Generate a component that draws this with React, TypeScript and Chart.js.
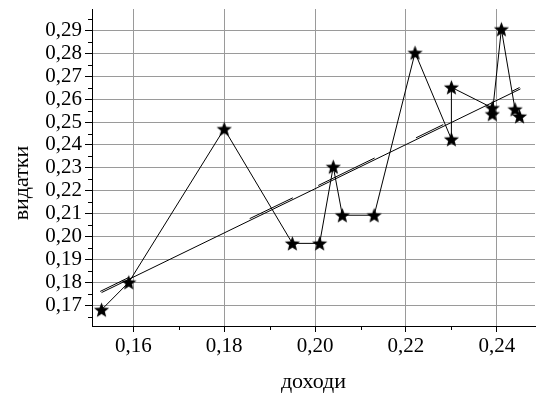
import React, { useEffect, useRef } from "react";
import { Chart, registerables } from "chart.js";
Chart.register(...registerables);

// observed points (income, expenditure)
const incomeX = [0.153, 0.159, 0.180, 0.195, 0.201, 0.204, 0.206, 0.213, 0.222, 0.230, 0.230, 0.239, 0.239, 0.241, 0.244, 0.245];
const spendY = [0.168, 0.180, 0.247, 0.197, 0.197, 0.2305, 0.2093, 0.2093, 0.2803, 0.2425, 0.2652, 0.2562, 0.2535, 0.2906, 0.2556, 0.2525];

// linear trend (solid)
const trendX = [0.153, 0.2452];
const trendY = [0.1755, 0.2645];

// second trend drawn as broken (double-looking) segments
const dashStartX = [0.1527, 0.1856, 0.2007, 0.2222, 0.2433];
const dashEndX = [0.1591, 0.1951, 0.2131, 0.2282, 0.2450];
const dashStartY = [0.1760, 0.2078, 0.2223, 0.2431, 0.2634];
const dashEndY = [0.1822, 0.2169, 0.2343, 0.2489, 0.2651];

// axes
const xMin = 0.1509;
const xMax = 0.2484;
const yMin = 0.1609;
const yMax = 0.2994;
const xMajorTicks = [0.16, 0.18, 0.20, 0.22, 0.24];
const yMajorTicks = [0.17, 0.18, 0.19, 0.20, 0.21, 0.22, 0.23, 0.24, 0.25, 0.26, 0.27, 0.28, 0.29];
const xMinorTicks = [0.17, 0.19, 0.21, 0.23];
const yMinorTicks = [0.165, 0.175, 0.185, 0.195, 0.205, 0.215, 0.225, 0.235, 0.245, 0.255, 0.265, 0.275, 0.285, 0.295];
const xTitle = "доходи";
const yTitle = "видатки";

const FONT = "'Liberation Serif', 'Times New Roman', serif";

function makeStar(r: number): HTMLCanvasElement {
  const s = Math.ceil(r * 2) + 3;
  const c = document.createElement("canvas");
  c.width = s;
  c.height = s;
  const ctx = c.getContext("2d")!;
  const cx = s / 2;
  const cy = s / 2 + 0.7;
  ctx.fillStyle = "#000";
  ctx.beginPath();
  for (let i = 0; i < 10; i++) {
    const a = -Math.PI / 2 + (i * Math.PI) / 5;
    const rad = i % 2 === 0 ? r : r * 0.43;
    const px = cx + rad * Math.cos(a);
    const py = cy + rad * Math.sin(a);
    if (i === 0) ctx.moveTo(px, py);
    else ctx.lineTo(px, py);
  }
  ctx.closePath();
  ctx.fill();
  return c;
}

const fmt = (v: number) => v.toFixed(2).replace(".", ",");

export default function App() {
  const ref = useRef<HTMLCanvasElement>(null);
  useEffect(() => {
    if (!ref.current) return;
    const star = makeStar(8);
    const points = incomeX.map((x, i) => ({ x, y: spendY[i] }));
    const trend = trendX.map((x, i) => ({ x, y: trendY[i] }));
    const dashed: { x: number; y: number | null }[] = [];
    dashStartX.forEach((sx, i) => {
      dashed.push({ x: sx, y: dashStartY[i] });
      dashed.push({ x: dashEndX[i], y: dashEndY[i] });
      dashed.push({ x: dashEndX[i], y: null });
    });

    const extras = {
      id: "extras",
      afterDraw(chart: any) {
        const ctx = chart.ctx;
        const xs = chart.scales.x;
        const ys = chart.scales.y;
        ctx.save();
        ctx.strokeStyle = "#000";
        ctx.lineWidth = 1;
        ctx.beginPath();
        xMinorTicks.forEach((v) => {
          const px = Math.round(xs.getPixelForValue(v)) + 0.5;
          ctx.moveTo(px, ys.bottom);
          ctx.lineTo(px, ys.bottom + 4);
        });
        yMinorTicks.forEach((v) => {
          const py = Math.round(ys.getPixelForValue(v)) + 0.5;
          ctx.moveTo(xs.left, py);
          ctx.lineTo(xs.left - 4, py);
        });
        ctx.stroke();
        ctx.fillStyle = "#000";
        ctx.font = `22px ${FONT}`;
        ctx.textAlign = "center";
        ctx.textBaseline = "middle";
        ctx.fillText(xTitle, (xs.left + xs.right) / 2, 382);
        ctx.translate(22, 183);
        ctx.rotate(-Math.PI / 2);
        ctx.fillText(yTitle, 0, 0);
        ctx.restore();
      },
    };

    const chart = new Chart(ref.current, {
      type: "line",
      data: {
        datasets: [
          {
            data: points,
            borderColor: "#000",
            borderWidth: 1,
            pointStyle: star as any,
            pointRadius: 8,
            pointBackgroundColor: "#000",
            tension: 0,
            fill: false,
          },
          {
            data: trend,
            borderColor: "#000",
            borderWidth: 1,
            pointRadius: 0,
            fill: false,
          },
          {
            data: dashed as any,
            borderColor: "#000",
            borderWidth: 1,
            pointRadius: 0,
            spanGaps: false,
            fill: false,
          },
        ],
      },
      options: {
        animation: false,
        responsive: false,
        devicePixelRatio: 1,
        layout: { padding: { top: 7, right: 0, left: 0, bottom: 0 } },
        plugins: { legend: { display: false }, tooltip: { enabled: false }, title: { display: false } },
        scales: {
          x: {
            type: "linear",
            min: xMin,
            max: xMax,
            bounds: "data",
            grid: { color: "#9a9a9a", lineWidth: 1, tickColor: "#000", tickLength: 6 },
            border: { color: "#000", width: 1 },
            ticks: {
              color: "#000",
              padding: 2,
              maxRotation: 0,
              autoSkip: false,
              font: { family: FONT, size: 21 },
              callback: (v: any) => fmt(Number(v)),
            },
            afterBuildTicks(scale: any) {
              scale.ticks = xMajorTicks.map((value) => ({ value }));
            },
            afterFit(scale: any) {
              scale.height = 68;
              scale.paddingLeft = 0;
              scale.paddingRight = 0;
            },
          },
          y: {
            type: "linear",
            min: yMin,
            max: yMax,
            bounds: "data",
            grid: { color: "#9a9a9a", lineWidth: 1, tickColor: "#000", tickLength: 7 },
            border: { color: "#000", width: 1 },
            ticks: {
              color: "#000",
              padding: 3,
              autoSkip: false,
              font: { family: FONT, size: 21 },
              callback: (v: any) => fmt(Number(v)),
            },
            afterBuildTicks(scale: any) {
              scale.ticks = yMajorTicks.map((value) => ({ value }));
            },
            afterFit(scale: any) {
              scale.width = 92;
              scale.paddingTop = 0;
              scale.paddingBottom = 0;
            },
          },
        },
      },
      plugins: [extras],
    });
    return () => chart.destroy();
  }, []);

  return (
    <div style={{ position: "absolute", left: 0, top: 0, width: 544, height: 394, background: "#fff" }}>
      <canvas ref={ref} width={544} height={394} style={{ display: "block" }} />
    </div>
  );
}
